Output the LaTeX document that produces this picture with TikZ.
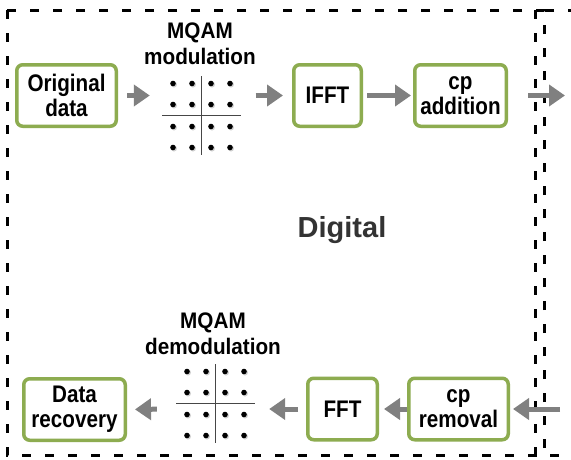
\documentclass[tikz,border=0pt]{standalone}
\usepackage{fontspec}
\setmainfont{Liberation Sans}
\newfontfamily\boxfont{Liberation Sans}[FakeStretch=0.86]
\newfontfamily\labfont{Liberation Sans}[FakeStretch=0.92]
\usetikzlibrary{arrows.meta}
\definecolor{boxgreen}{RGB}{141,172,80}
\definecolor{arrgray}{RGB}{128,128,128}
\definecolor{txtgray}{RGB}{51,51,51}
\definecolor{constgray}{RGB}{70,70,70}
\tikzset{
  block/.style={draw=boxgreen, line width=3.5pt, rounded corners=6pt, fill=white,
    align=center, inner sep=0pt, minimum height=61.5pt,
    font=\boxfont\bfseries\fontsize{24}{25}\selectfont},
  flow/.style={draw=arrgray, line width=5pt, -{Triangle[length=16pt,width=21pt]}},
  region/.style={draw=black, line width=3pt, dash pattern=on 9pt off 14pt},
  qamarea/.style={minimum width=79pt, minimum height=79pt, inner sep=0pt},
  qamlabel/.style={align=center, font=\labfont\bfseries\fontsize{22.5}{26}\selectfont},
  constline/.style={draw=constgray, line width=1.4pt},
  qam/.pic={
    \draw[constline] (-39.5,0) -- (39.5,0);
    \draw[constline] (0,-39.5) -- (0,39.5);
    \foreach \x in {-28.5,-9.5,9.5,28.5}
      \foreach \y in {-32,-11,11,32}{
        \fill[black!18] (\x+1,\y+1) circle (3pt);
        \fill[black] (\x,\y) circle (2.8pt);
      }
  }
}
\begin{document}
\begin{tikzpicture}[x=1pt,y=-1pt]
\useasboundingbox (0,0) rectangle (571,459);
\clip (0,0) rectangle (571,459);
\fill[white] (0,0) rectangle (571,459);

% dashed regions
\draw[region] (7,10) rectangle (544,455);
\draw[region] (535,10) rectangle (640,455);

% top row
\node[block, minimum width=99.5pt] (orig) at (66.5,95.5) {Original\\data};
\node[qamarea] (modq) at (201.5,115.5) {};
\pic at (modq) {qam};
\node[qamlabel] (modt) at (200,44) {MQAM\\modulation};
\node[block, minimum width=67.5pt] (ifft) at (327.5,95.5) {IFFT};
\node[block, minimum width=91.5pt] (cpadd) at (460.5,95.5) {cp\\addition};
\node[block, minimum width=96.5pt] (rt) at (621,95.5) {};

% bottom row
\node[block, minimum width=101.5pt] (datarec) at (74.5,409.5) {Data\\recovery};
\node[qamarea] (demodq) at (215.5,403.5) {};
\pic at (demodq) {qam};
\node[qamlabel] (demodt) at (213,334) {MQAM\\demodulation};
\node[block, minimum width=69.5pt] (fft) at (342.5,409) {FFT};
\node[block, minimum width=99.5pt] (cprem) at (458.5,409) {cp\\removal};
\node[block, minimum width=96.5pt] (rb) at (621,409) {};

\node[font=\bfseries\fontsize{29}{30}\selectfont, text=txtgray] (dig) at (342,230) {Digital};

% arrows top
\draw[flow, shorten <=9pt, shorten >=12pt] (orig.east) -- (orig.east -| modq.west);
\draw[flow, shorten <=14.5pt, shorten >=9pt] (orig.east -| modq.east) -- (ifft.west);
\draw[flow, shorten <=4pt, shorten >=2pt] (ifft.east) -- (cpadd.west);
\draw[flow, shorten <=20pt, shorten >=6pt] (cpadd.east) -- (rt.west);

% arrows bottom
\draw[flow, shorten <=11pt, shorten >=3pt] (rb.west) -- (cprem.east);
\draw[flow, shorten >=5pt] (cprem.west) -- (fft.east);
\draw[flow, shorten <=8pt, shorten >=14pt] (fft.west) -- (fft.west -| demodq.east);
\draw[flow, shorten <=19pt, shorten >=8pt] (fft.west -| demodq.west) -- (datarec.east);
\end{tikzpicture}
\end{document}
